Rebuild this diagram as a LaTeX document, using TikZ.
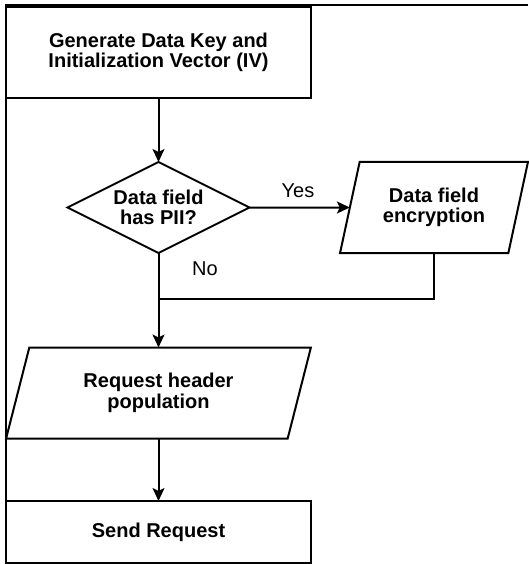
\documentclass[tikz,border=0pt]{standalone}
\usepackage{fontspec}
\setmainfont{Liberation Sans}
\usetikzlibrary{shapes.geometric, arrows.meta}

\tikzset{
  flowline/.style={line width=2pt},
  arrowline/.style={flowline, -{Stealth[length=13pt, width=12pt, inset=3pt]}},
  boxtext/.style={align=center, inner sep=0pt, outer sep=0pt, font=\fontsize{20}{20.5}\selectfont\bfseries},
  process/.style={boxtext, draw, flowline, rectangle, minimum width=305pt},
  decision/.style={boxtext, draw, flowline, diamond, aspect=2, minimum width=182pt, minimum height=91pt},
  inout/.style={boxtext, draw, flowline, trapezium, trapezium left angle=71, trapezium right angle=109, trapezium stretches=true, minimum height=91pt},
  branchlabel/.style={inner sep=0pt, font=\fontsize{20}{20.5}\selectfont}
}

\begin{document}
\begin{tikzpicture}[x=1pt, y=-1pt]
        \useasboundingbox (0,0) rectangle (528,564);

        % Draw the outer frame
        \draw[flowline] (528,5.5) -- (5.5,5.5) -- (5.5,564);

        % Draw the steps of the flow
        \node[process, minimum height=91pt] (genkey) at (158.5,52.5) {Generate Data Key and\\Initialization Vector (IV)};
        \node[decision] (haspii) at (158.5,207.5) {Data field\\has PII?};
        \node[inout, minimum width=188pt] (encrypt) at (434,207.5) {Data field\\encryption};
        \node[inout, minimum width=305pt] (header) at (158.5,393) {Request header\\population};
        \node[process, minimum height=62pt] (send) at (158.5,532) {Send Request};

        % Join point below the decision
        \coordinate (merge) at (158.5,299);

        % Draw the connectors
        \draw[arrowline] (genkey) -- (haspii);
        \draw[arrowline] (haspii.east) -- (encrypt);
        \draw[flowline] (encrypt.south) |- (merge);
        \draw[arrowline] (haspii.south) -- (header);
        \draw[arrowline] (header) -- (send);

        % Label the branches
        \node[branchlabel] (yes) at (298,191) {Yes};
        \node[branchlabel] (no) at (205,268.5) {No};
\end{tikzpicture}
\end{document}
